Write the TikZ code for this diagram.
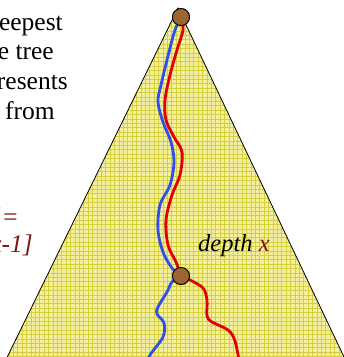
\documentclass[tikz,border=0pt]{standalone}
\usepackage{fontspec}
\setmainfont{Liberation Serif}
\definecolor{trfill}{HTML}{F3EF9E}
\definecolor{trgrid}{HTML}{D5CF3E}
\definecolor{pblue}{HTML}{2F4FE6}
\definecolor{pred}{HTML}{E00000}
\definecolor{dkred}{HTML}{7A1616}
\definecolor{knotbrown}{HTML}{9C6532}

\begin{document}
\begin{tikzpicture}[x=1pt, y=-1pt, font=\fontsize{25.5}{30}\selectfont,
    walk/.style={line width=2.8pt, line cap=round, smooth, tension=0.55},
    knot/.style={circle, draw=black, fill=knotbrown, line width=0.8pt, inner sep=0pt, minimum size=17pt},
    note/.style={anchor=base east, inner sep=0pt},
  ]
  \useasboundingbox (0,0) rectangle (344,357);
  \clip (0,0) rectangle (344,357);

  % the tree: filled triangle with a fine grid, outline on top
  \coordinate (apex) at (178,8);
  \coordinate (bl) at (-4,380);
  \coordinate (br) at (355,380);
  \fill[trfill] (apex) -- (bl) -- (br) -- cycle;
  \begin{scope}
    \clip (apex) -- (bl) -- (br) -- cycle;
    \draw[trgrid, line width=0.55pt, step=4.4pt] (0,357) grid (344,0);
  \end{scope}
  \draw[black, line width=0.8pt] (bl) -- (apex) -- (br);

  % the two nodes on the paths (drawn again at the end, over the lines)
  \node[knot] (root) at (181,17) {};
  \node[knot] (mid) at (181,276) {};
  \coordinate (bleaf) at (146,366);
  \coordinate (rleaf) at (240,366);

  % root to depth x
  \draw[walk, pblue] plot coordinates {(root.center) (175,30) (169,52) (161,85) (158,102)
    (163,122) (171,142) (174,162) (170,185) (160,205) (158,230) (163,252) (172,268) (mid.center)};
  \draw[walk, pred] plot coordinates {(root.center) (183,30) (177,50) (170,75) (165,100)
    (166,120) (174,137) (182,152) (180,175) (172,195) (166,220) (168,245) (176,262) (mid.center)};

  % depth x down to the leaves
  \draw[walk, pblue] plot coordinates {(mid.center) (172,282) (167,292) (158,307) (157,314)
    (164,323) (163,337) (150,355) (bleaf)};
  \draw[walk, pred] plot coordinates {(mid.center) (190,280) (203,288) (207,300) (207,316)
    (212,322) (228,330) (235,341) (rleaf)};

  \node[knot] at (root) {};
  \node[knot] at (mid) {};

  % text, cut at the left edge as in the slide
  \node[note] (l1) at (63,30) {eepest};
  \node[note] (l2) at (54,59) {e tree};
  \node[note] (l3) at (68,89) {resents};
  \node[note] (l4) at (55,119) {from};
  \node[note, text=dkred] (f1) at (19,225) {\itshape ]=};
  \node[note, text=dkred] (f2) at (33,252) {\itshape x-1]};
  \node[anchor=base west, inner sep=0pt, font=\fontsize{24.5}{30}\selectfont] (dlab) at (198,251) {\itshape depth \textcolor{dkred}{x}};
\end{tikzpicture}
\end{document}
